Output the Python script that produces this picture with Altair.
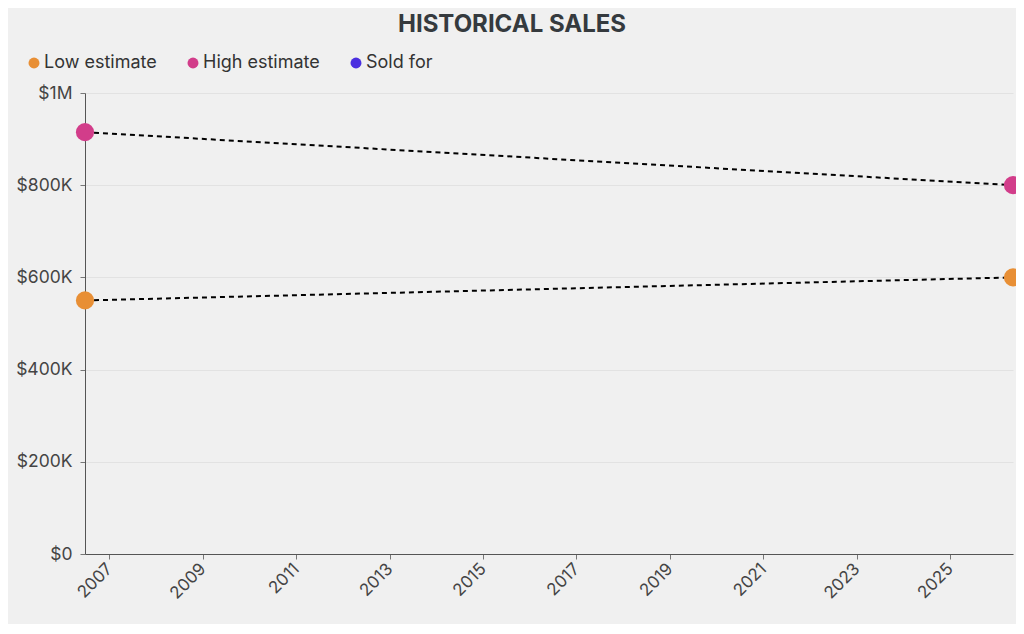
import altair as alt
import pandas as pd

series = ["Low estimate", "High estimate", "Sold for"]
colors = ["#E88F35", "#D23D8A", "#4B2FE0"]

low_dates = ["2006-06-25", "2026-05-08"]
low_values = [550000, 600000]
high_dates = ["2006-06-25", "2026-05-08"]
high_values = [915000, 800000]

y_ticks = [0, 200000, 400000, 600000, 800000, 1000000]

rows = []
for d, v in zip(low_dates, low_values):
    rows.append({"date": d, "value": v, "series": "Low estimate"})
for d, v in zip(high_dates, high_values):
    rows.append({"date": d, "value": v, "series": "High estimate"})
df = pd.DataFrame(rows)

FONT = "Inter"

x_enc = alt.X(
    "date:T",
    title=None,
    scale=alt.Scale(nice=False),
    axis=alt.Axis(
        format="%Y",
        values=[f"{y}-01-01" for y in range(2007, 2027, 2)],
        labelAngle=-45,
        labelAlign="right",
        labelBaseline="middle",
        grid=False,
        tickSize=5,
        labelFontSize=17,
        labelPadding=7,
    ),
)
y_enc = alt.Y(
    "value:Q",
    title=None,
    scale=alt.Scale(domain=[0, 1000000], nice=False),
    axis=alt.Axis(
        values=y_ticks,
        labelExpr="datum.value == 0 ? '$0' : (datum.value >= 1000000 ? '$' + datum.value/1000000 + 'M' : '$' + datum.value/1000 + 'K')",
        grid=True,
        tickSize=5,
        labelFontSize=17.5,
        labelPadding=8,
    ),
)

lines = alt.Chart(df).mark_line(
    color="black", strokeDash=[5, 4], strokeWidth=2
).encode(x=x_enc, y=y_enc, detail="series:N")

points = alt.Chart(df).mark_circle(size=330, opacity=1).encode(
    x=x_enc,
    y=y_enc,
    color=alt.Color(
        "series:N",
        scale=alt.Scale(domain=series, range=colors),
        legend=alt.Legend(
            title=None,
            orient="none",
            direction="horizontal",
            legendX=-60,
            legendY=-39,
            symbolType="circle",
            symbolSize=120,
            symbolStrokeWidth=0,
            symbolOpacity=1,
            labelFontSize=18,
            labelColor="#333333",
            labelFont=FONT,
            columnPadding=27,
            labelOffset=1,
            padding=0,
        ),
    ),
)

chart = (
    alt.layer(lines, points)
    .properties(
        width=928,
        height=461,
        autosize=alt.AutoSizeParams(type="none"),
        padding={"left": 77, "top": 85, "right": 3, "bottom": 70},
        background="#f0f0f0",
        title=alt.Title(
            "HISTORICAL SALES",
            font=FONT,
            fontSize=24,
            fontWeight="bold",
            color="#353a3e",
            anchor="middle",
            dx=-37,
            offset=17,
        ),
    )
    .configure_view(stroke=None)
    .configure_axis(
        labelFont=FONT,
        labelColor="#444444",
        domainColor="#555555",
        tickColor="#777777",
        gridColor="#e2e2e2",
    )
)

chart.save("out.html", embed_options={"renderer": "svg", "actions": False})
